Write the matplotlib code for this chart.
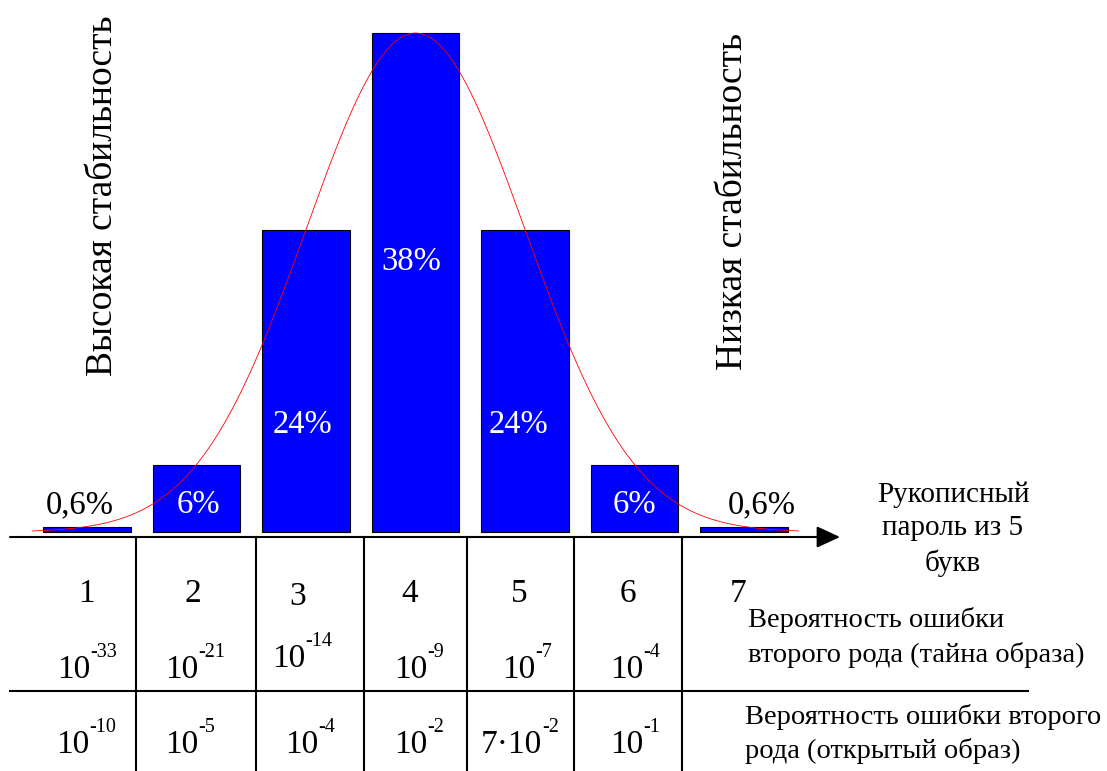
import numpy as np
import matplotlib
matplotlib.use("Agg")
import matplotlib.pyplot as plt
from matplotlib.transforms import Affine2D

plt.rcParams['font.family'] = ['Liberation Serif', 'DejaVu Serif']

# --- data ---
groups = [1, 2, 3, 4, 5, 6, 7]
heights = [0.4, 5.1, 23.0, 38.0, 23.0, 5.1, 0.4]
pct_labels = ['0,6%', '6%', '24%', '38%', '24%', '6%', '0,6%']
err_hidden_exp = ['-33', '-21', '-14', '-9', '-7', '-4']
err_open_base = ['10', '10', '10', '10', '7\u00b710', '10']
err_open_exp = ['-10', '-5', '-4', '-2', '-2', '-1']
curve_mean, curve_sigma, curve_peak = 4.0, 1.0, 38.0

W, H = 1107, 771
fig = plt.figure(figsize=(W / 100, H / 100), dpi=100)
ax = fig.add_axes([0, 0, 1, 1])
ax.set_xlim(0.2055, 10.315)
ax.set_ylim(-18.2, 40.52)
ax.axis('off')

# pixel coords measured from the top-left corner
pix = Affine2D().scale(1 / W, -1 / H).translate(0, 1) + fig.transFigure

ax.bar(groups, heights, width=0.8, color='#0000ff', edgecolor='black', linewidth=0.8, zorder=2)

xs = np.linspace(0.5, 7.5, 400)
ax.plot(xs, curve_peak * np.exp(-(xs - curve_mean) ** 2 / (2 * curve_sigma ** 2)),
        color='red', lw=0.6, zorder=3)

# percentage labels
lab_x = [80, 198, 303, 411, 519, 634, 762]
lab_y = [513, 513, 433, 270, 433, 513, 513]
for i, s in enumerate(pct_labels):
    c = 'black' if heights[i] < 1 else 'white'
    ax.text(lab_x[i], lab_y[i], s, transform=pix, ha='center', va='baseline',
            fontsize=23.5, color=c, zorder=4)

# axis arrow and table lines
ax.annotate('', xy=(840, 537), xytext=(10, 537), xycoords=pix, textcoords=pix,
            arrowprops=dict(arrowstyle='-|>,head_length=0.65,head_width=0.3',
                            lw=1.5, color='black', mutation_scale=22, shrinkA=0, shrinkB=0))
ax.plot([10, 1028], [691, 691], transform=pix, color='black', lw=1.5, clip_on=False)
for vx in [136, 256, 364, 467, 574, 682]:
    ax.plot([vx, vx], [537, 771], transform=pix, color='black', lw=1.5, clip_on=False)

# row of group numbers
num_x = [86, 193, 298, 410, 519, 628, 738]
num_y = [602, 602, 605, 602, 602, 602, 602]
for i, g in enumerate(groups):
    ax.text(num_x[i], num_y[i], str(g), transform=pix, ha='center', va='baseline', fontsize=24)

# powers of ten
def power(x, y, base, exp):
    ax.text(x, y, base, transform=pix, ha='right', va='baseline', fontsize=24)
    ax.text(x, y - 21, exp, transform=pix, ha='left', va='baseline', fontsize=14.5)

row2_x = [90, 198, 305, 427, 535, 643]
row2_y = [678, 678, 667, 678, 678, 678]
for i, e in enumerate(err_hidden_exp):
    power(row2_x[i], row2_y[i], '10', e)

row3_x = [89, 198, 318, 427, 542, 643]
for i, (b, e) in enumerate(zip(err_open_base, err_open_exp)):
    power(row3_x[i], 753, b, e)

# side texts
ax.text(953, 571, 'Рукописный\nпароль из 5\nбукв', transform=pix, ha='center', va='baseline',
        fontsize=21, linespacing=1.38)
ax.text(748, 662, 'Вероятность ошибки\nвторого рода (тайна образа)', transform=pix,
        ha='left', va='baseline', fontsize=20.5, linespacing=1.45)
ax.text(745, 758, 'Вероятность ошибки второго\nрода (открытый образ)', transform=pix,
        ha='left', va='baseline', fontsize=20.5, linespacing=1.4)

ax.text(103, 196, 'Высокая стабильность', transform=pix, rotation=90, ha='center', va='center',
        fontsize=27)
ax.text(733, 202, 'Низкая стабильность', transform=pix, rotation=90, ha='center', va='center',
        fontsize=27)

fig.savefig('out.png', dpi=100)
